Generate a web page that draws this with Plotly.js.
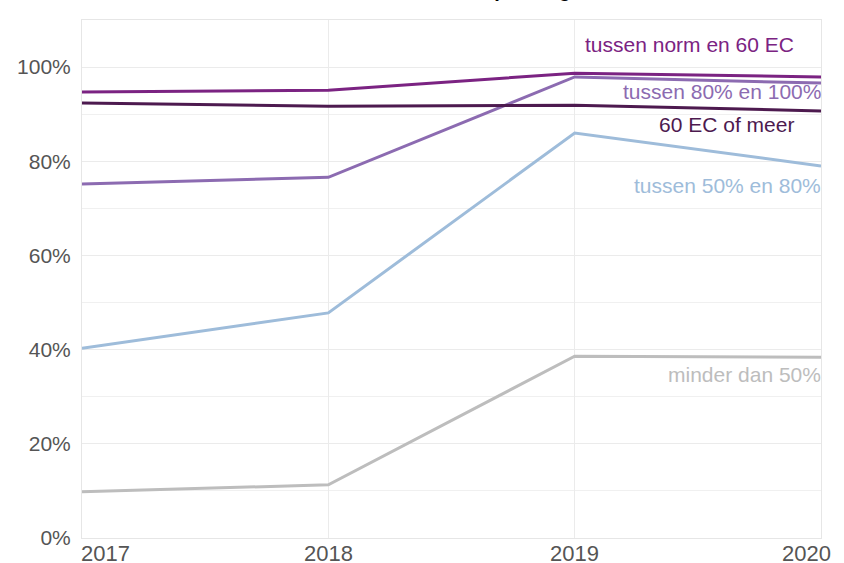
<!DOCTYPE html>
<html>
<head>
<meta charset="utf-8">
<script src="https://cdn.plot.ly/plotly-3.0.1.min.js"></script>
<style>html,body{margin:0;padding:0;background:#fff;}#chart{width:844px;height:563px;}</style>
</head>
<body>
<div id="chart"></div>
<script>
const years = [2017, 2018, 2019, 2020];
const yearLabels = ['2017', '2018', '2019', '2020'];
const seriesNames = ['minder dan 50%', 'tussen 50% en 80%', 'tussen 80% en 100%', '60 EC of meer', 'tussen norm en 60 EC'];
const minder50 = [0.098, 0.113, 0.386, 0.384];
const tussen50_80 = [0.403, 0.478, 0.860, 0.790];
const tussen80_100 = [0.752, 0.766, 0.979, 0.966];
const ec60meer = [0.924, 0.917, 0.919, 0.907];
const normEn60 = [0.947, 0.951, 0.987, 0.979];
const labelY = [0.348, 0.749, 0.949, 0.879, 1.049];
const yTickVals = [0, 0.2, 0.4, 0.6, 0.8, 1.0];
const yTickText = ['0%', '20%', '40%', '60%', '80%', '100%'];
const titleText = 'Doorstroom binnen opleiding';

const colors = ['#bdbdbd', '#9ebcda', '#8c6bb1', '#4d1a4f', '#7b2382'];
const values = [minder50, tussen50_80, tussen80_100, ec60meer, normEn60];
const labelShift = [2, 2, 2, -25, -25];

const traces = values.map((v, i) => ({
  x: years, y: v, type: 'scatter', mode: 'lines', name: seriesNames[i],
  line: {color: colors[i], width: 3}, hoverinfo: 'skip'
}));

const annotations = seriesNames.map((n, i) => ({
  x: 2020, y: labelY[i], xref: 'x', yref: 'y', text: n, showarrow: false,
  xanchor: 'right', yanchor: 'middle', xshift: labelShift[i],
  font: {family: 'Liberation Sans, Arial, sans-serif', size: 21, color: colors[i]}
}));

const xAnchors = ['left', 'center', 'center', 'right'];
const xShifts = [-3, 0, 0, 12];
years.forEach((yr, i) => {
  annotations.push({
    x: yr, y: 0, xref: 'x', yref: 'paper', text: yearLabels[i], showarrow: false,
    xanchor: xAnchors[i], yanchor: 'top', yshift: -1, xshift: xShifts[i],
    font: {family: 'Liberation Sans Narrow, Liberation Sans, Arial, sans-serif', size: 22, color: '#555555'}
  });
});

annotations.push({
  x: 0.472, y: 1.057, xref: 'paper', yref: 'paper', text: '<b>' + titleText + '</b>',
  showarrow: false, xanchor: 'center', yanchor: 'middle',
  font: {family: 'Liberation Sans, Arial, sans-serif', size: 20, color: '#000000'}
});

const layout = {
  width: 844, height: 563,
  margin: {l: 82, r: 23, t: 20, b: 25},
  paper_bgcolor: '#ffffff', plot_bgcolor: '#ffffff',
  showlegend: false,
  xaxis: {
    range: [2017, 2020], tickvals: years, showticklabels: false,
    showgrid: true, gridcolor: '#ebebeb', gridwidth: 1,
    showline: true, linecolor: '#e6e6e6', linewidth: 1, mirror: true,
    zeroline: false, ticks: ''
  },
  yaxis: {
    range: [0, 1.1], tickvals: yTickVals, ticktext: yTickText,
    tickfont: {family: 'Liberation Sans, Arial, sans-serif', size: 21, color: '#555555'},
    showgrid: true, gridcolor: '#ebebeb', gridwidth: 1,
    minor: {dtick: 0.1, tick0: 0, showgrid: true, gridcolor: '#f0f0f0', gridwidth: 1},
    showline: true, linecolor: '#e6e6e6', linewidth: 1, mirror: true,
    zeroline: false, ticks: '', ticklabelstandoff: 6
  },
  annotations: annotations
};

Plotly.newPlot('chart', traces, layout, {displayModeBar: false, staticPlot: true});
</script>
</body>
</html>
